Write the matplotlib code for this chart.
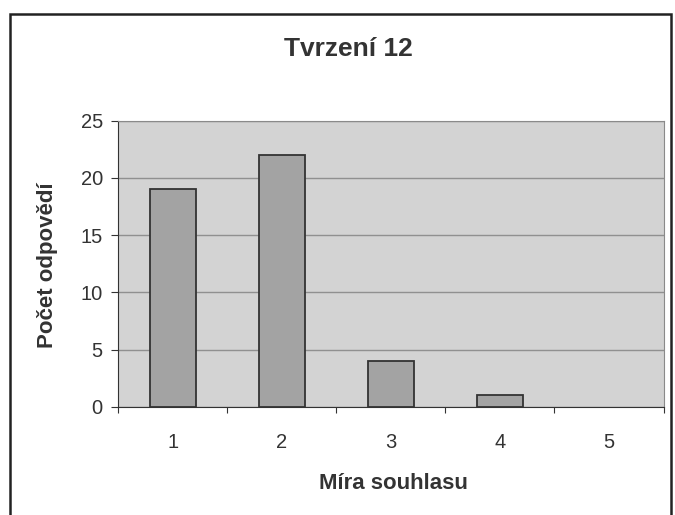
import matplotlib
matplotlib.use("Agg")
import matplotlib.pyplot as plt
from matplotlib.patches import Rectangle

# data
categories = ["1", "2", "3", "4", "5"]
counts = [19, 22, 4, 1, 0]
y_ticks = [0, 5, 10, 15, 20, 25]

plt.rcParams["font.family"] = ["Liberation Sans", "DejaVu Sans"]

fig = plt.figure(figsize=(6.75, 5.15), dpi=100)
ax = fig.add_axes([0.175, 0.210, 0.808, 0.556])

# outer frame of the chart
fig.patches.append(Rectangle((0.015, -0.01), 0.979, 0.982, transform=fig.transFigure,
                             fill=False, edgecolor="#222222", linewidth=1.8))

ax.set_facecolor("#d3d3d3")
x = list(range(len(categories)))
edge_w = [1.3 if c > 0 else 0 for c in counts]
ax.bar(x, counts, width=0.42, color="#a3a3a3", edgecolor="#333333",
       linewidth=edge_w, zorder=3)

ax.set_xlim(-0.5, len(categories) - 0.5)
ax.set_ylim(0, 25)
ax.set_yticks(y_ticks)
# ticks sit on the category boundaries, labels on the centres
ax.set_xticks([i - 0.5 for i in range(len(categories) + 1)])
ax.set_xticklabels([])
ax.set_xticks(x, minor=True)
ax.set_xticklabels(categories, minor=True)
ax.tick_params(axis="x", which="major", length=4, color="#333333")
ax.tick_params(axis="x", which="minor", length=0, labelsize=14.5, pad=19, labelcolor="#333333")
ax.tick_params(axis="y", labelsize=14.5, length=5, pad=6, color="#333333", labelcolor="#333333")
ax.yaxis.grid(True, color="#909090", linewidth=1, zorder=1)

for side in ["top", "right"]:
    ax.spines[side].set_color("#8a8a8a")
ax.spines["left"].set_color("#333333")
ax.spines["bottom"].set_color("#333333")

fig.text(0.516, 0.905, "Tvrzení 12", fontsize=19, fontweight="bold",
         color="#333333", ha="center", va="center")
fig.text(0.583, 0.062, "Míra souhlasu", fontsize=16, fontweight="bold",
         color="#333333", ha="center", va="center")
fig.text(0.071, 0.485, "Počet odpovědí", fontsize=16, fontweight="bold",
         color="#333333", ha="center", va="center", rotation=90)

fig.savefig("out.png", dpi=100)
